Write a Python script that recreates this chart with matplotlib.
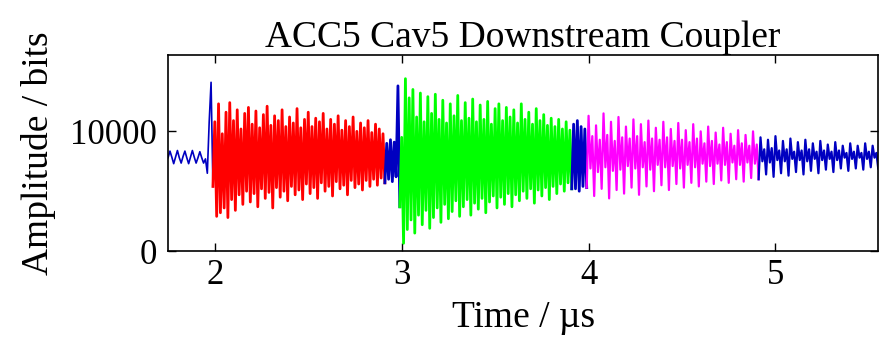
import matplotlib.pyplot as plt
import numpy as np

dt = 0.01

# coupler signal, split into the colour-coded pulse sections (amplitude in bits)
pre_start = 1.75
pre_vals = [7800, 8350, 7850, 7300, 7850, 8400, 7800, 7350, 7900, 8350,
            7800, 7300, 7850, 8400, 7850, 7350, 7800, 8300, 7800, 7350,
            7700, 6500, 10800, 14100, 5400]

red_vals = [10800, 2900, 12300, 3200, 9800, 3600, 11600, 2800, 12400, 4300,
            10900, 3400, 11800, 4700, 10200, 3900, 11500, 5000, 12000, 4100,
            10600, 4800, 11700, 3700, 10300, 5200, 11400, 4400, 12100, 4900,
            10500, 3600, 11300, 5300, 10900, 4500, 11800, 5000, 10400, 4200,
            11200, 5400, 10700, 4700, 11900, 5100, 10300, 4300, 11000, 5600,
            11600, 4800, 10400, 5300, 11100, 4400, 10800, 5700, 11500, 5000,
            10200, 5400, 11000, 4600, 10600, 5800, 11300, 5200, 10100, 5500,
            10900, 4700, 10400, 5900, 11200, 5300, 10000, 5600, 10700, 5100,
            10300, 5900, 10900, 5400, 9900, 6000, 10600, 5500, 10200, 6100,
            9800, 5700]

blue_mid1_vals = [9000, 6000, 9300, 5800, 9100, 6200, 13800, 3700]

green_vals = [9500, 650, 14400, 1800, 12800, 2600, 13500, 1500, 11200, 3000,
              13200, 2200, 10800, 3400, 12900, 1900, 11500, 2800, 13100, 3600,
              11000, 2400, 12600, 3900, 10700, 2700, 12300, 3300, 11300, 4200,
              13000, 2900, 10900, 3700, 12400, 4300, 11100, 3000, 12700, 4000,
              10800, 3500, 12200, 4400, 11000, 3200, 12500, 4100, 10600, 4600,
              11900, 3600, 12300, 4500, 10900, 3900, 12000, 4800, 11200, 3700,
              11800, 4700, 10700, 4200, 12300, 5000, 11000, 4400, 11600, 5200,
              10600, 4000, 11900, 5100, 10900, 4600, 11400, 5300, 10500, 4300,
              11100, 5400, 10400, 4800, 11000, 5600, 10200, 5000, 10800, 5700,
              10100, 5200]

blue_mid2_vals = [10600, 5200, 10900, 5000, 10400, 5400, 10200, 5300]

magenta_vals = [11300, 6900, 9600, 4600, 10500, 6600, 9300, 5200,
                11500, 7000, 9700, 4400, 10800, 6700, 9200, 5100,
                11200, 6800, 9500, 4800, 10400, 7100, 9400, 5300,
                11000, 6900, 9600, 4700, 10600, 7000, 9100, 5400,
                10900, 6800, 9400, 5000, 10300, 7200, 9300, 5500,
                10800, 7000, 9500, 5100, 10200, 7100, 9200, 5600,
                10700, 6900, 9300, 5300, 10100, 7200, 9100, 5700,
                10600, 7000, 9400, 5400, 10000, 7300, 9000, 5800,
                10400, 7100, 9200, 5600, 9900, 7300, 8900, 5900,
                10300, 7200, 9100, 5700, 9800, 7400, 8800, 6000,
                10100, 7200, 9000, 5800, 9700, 7400, 8800, 6100,
                10000, 7300, 8900, 6000]

blue_tail_vals = [9500, 7500, 8500, 6400, 9300, 7400, 8600, 6200,
                  9600, 7600, 8400, 6500, 9200, 7500, 8500, 6300,
                  9400, 7700, 8300, 6600, 9100, 7600, 8400, 6400,
                  9300, 7500, 8500, 6700, 9000, 7700, 8300, 6500,
                  9200, 7600, 8400, 6800, 8900, 7700, 8300, 6600,
                  9100, 7600, 8400, 6900, 8800, 7800, 8200, 6700,
                  9000, 7700, 8300, 6900, 8800, 7800, 8200, 6800,
                  9000, 7700, 8300, 7000, 8800, 7800, 8200, 6900]

# (values, colour, line width)
sections = [
    (pre_vals, '#0000c0', 1.2),
    (red_vals, '#ff0000', 2.0),
    (blue_mid1_vals, '#0000c0', 2.0),
    (green_vals, '#00ff00', 2.0),
    (blue_mid2_vals, '#0000c0', 2.0),
    (magenta_vals, '#ff00ff', 1.6),
    (blue_tail_vals, '#0000c0', 1.6),
]

plt.rcParams['font.family'] = ['Liberation Serif', 'DejaVu Serif']

fig = plt.figure(figsize=(8.8, 3.37), dpi=100)
ax = fig.add_axes([0.191, 0.255, 0.807, 0.582])

# walk through the sections, each one joined to the last sample of the previous
idx = 0
prev = None
for vals, color, lw in sections:
    t = pre_start + dt * np.arange(idx, idx + len(vals))
    y = np.asarray(vals, dtype=float)
    if prev is not None:
        t = np.concatenate([[prev[0]], t])
        y = np.concatenate([[prev[1]], y])
    ax.plot(t, y, color=color, linewidth=lw, solid_joinstyle='round')
    prev = (t[-1], y[-1])
    idx += len(vals)

ax.set_xlim(1.75, 5.55)
ax.set_ylim(0, 16384)
ax.set_xticks([2, 3, 4, 5])
ax.set_yticks([0, 10000])
ax.tick_params(direction='in', top=True, right=True, length=6, width=1,
               labelsize=25)
ax.tick_params(axis='x', pad=6)
ax.tick_params(axis='y', pad=8)
for s in ax.spines.values():
    s.set_linewidth(1.2)

ax.set_title('ACC5 Cav5 Downstream Coupler', fontsize=27, pad=6)
ax.set_xlabel('Time / µs', fontsize=27, labelpad=6)
ax.set_ylabel('Amplitude / bits', fontsize=27, labelpad=10)

fig.savefig('out.png', dpi=100)
